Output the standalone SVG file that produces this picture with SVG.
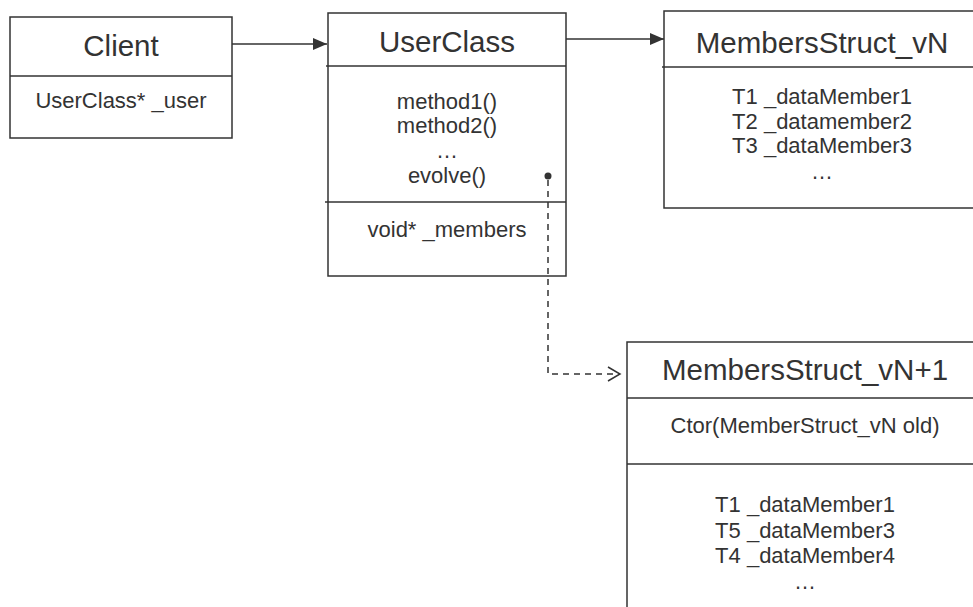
<svg xmlns="http://www.w3.org/2000/svg" width="973" height="607" viewBox="0 0 973 607">
<defs>
<style>
.box{fill:#fff;stroke:#333;stroke-width:1.5}
.ln{stroke:#333;stroke-width:1.5;fill:none}
.t{font-family:"Liberation Sans",Arial,sans-serif;font-size:29.5px;fill:#333;text-anchor:middle}
.b{font-family:"Liberation Sans",Arial,sans-serif;font-size:22px;fill:#333;text-anchor:middle}
.dash{stroke:#333;stroke-width:1.5;fill:none;stroke-dasharray:6,5}
</style>
<marker id="fa" markerWidth="14" markerHeight="12" refX="14" refY="6" orient="auto" markerUnits="userSpaceOnUse">
<path d="M0,0 L14,6 L0,12 Z" fill="#333"/>
</marker>
<marker id="oa" markerWidth="16" markerHeight="16" refX="14" refY="8" orient="auto" markerUnits="userSpaceOnUse">
<path d="M2,1 L14,8 L2,15" fill="none" stroke="#333" stroke-width="1.5"/>
</marker>
</defs>
<rect width="973" height="607" fill="#fff"/>
<g id="client">
<rect class="box" x="10" y="17" width="222" height="121"/>
<line class="ln" x1="10" y1="76" x2="232" y2="76"/>
<text class="t" x="121" y="56">Client</text>
<text class="b" x="121" y="108">UserClass* _user</text>
</g>
<g id="userclass">
<rect class="box" x="328" y="13" width="238" height="263"/>
<line class="ln" x1="326" y1="66" x2="566" y2="66"/>
<line class="ln" x1="325" y1="202" x2="566" y2="202"/>
<text class="t" x="447" y="52">UserClass</text>
<text class="b" x="447" y="109">method1()</text>
<text class="b" x="447" y="133">method2()</text>
<text class="b" x="447" y="158">…</text>
<text class="b" x="447" y="183">evolve()</text>
<text class="b" x="447" y="237">void* _members</text>
</g>
<g id="membersvN">
<rect class="box" x="664" y="11" width="330" height="197"/>
<line class="ln" x1="662" y1="67" x2="973" y2="67"/>
<text class="t" x="822" y="53">MembersStruct_vN</text>
<text class="b" x="822" y="104">T1 _dataMember1</text>
<text class="b" x="822" y="129">T2 _datamember2</text>
<text class="b" x="822" y="153">T3 _dataMember3</text>
<text class="b" x="822" y="179">…</text>
</g>
<g id="membersvN1">
<rect class="box" x="627" y="342" width="370" height="290"/>
<line class="ln" x1="627" y1="398" x2="973" y2="398"/>
<line class="ln" x1="627" y1="464" x2="973" y2="464"/>
<text class="t" x="805" y="380">MembersStruct_vN+1</text>
<text class="b" x="805" y="433">Ctor(MemberStruct_vN old)</text>
<text class="b" x="805" y="512">T1 _dataMember1</text>
<text class="b" x="805" y="538">T5 _dataMember3</text>
<text class="b" x="805" y="563">T4 _dataMember4</text>
<text class="b" x="805" y="589">…</text>
</g>
<g id="connectors">
<line class="ln" x1="232" y1="44" x2="327" y2="44" marker-end="url(#fa)"/>
<line class="ln" x1="566" y1="39" x2="664" y2="39" marker-end="url(#fa)"/>
<circle cx="548" cy="176" r="3.5" fill="#333"/>
<path class="dash" d="M548,180 L548,374 L620,374" marker-end="url(#oa)"/>
</g>
</svg>
